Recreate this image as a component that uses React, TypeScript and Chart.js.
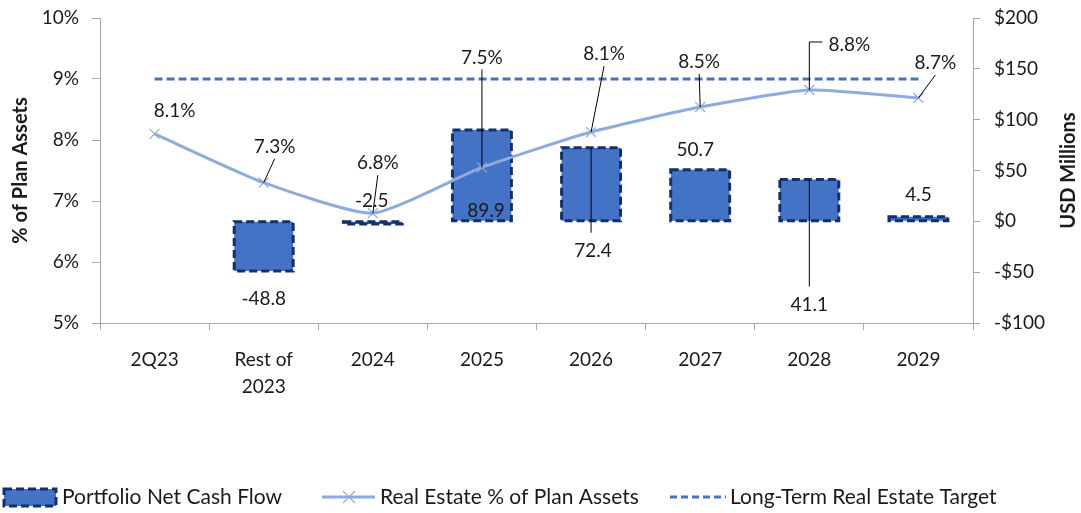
import React, { useEffect, useRef } from "react";
import { Chart, registerables } from "chart.js";

Chart.register(...registerables);

// ---------- data ----------
const categories: string[][] = [
  ["2Q23"],
  ["Rest of", "2023"],
  ["2024"],
  ["2025"],
  ["2026"],
  ["2027"],
  ["2028"],
  ["2029"],
];
const netCashFlow: (number | null)[] = [null, -48.8, -2.5, 89.9, 72.4, 50.7, 41.1, 4.5];
const realEstatePct: number[] = [8.1, 7.3, 6.8, 7.55, 8.13, 8.54, 8.82, 8.69];
const targetPct: number[] = [9, 9, 9, 9, 9, 9, 9, 9];
const pctLabels: string[] = ["8.1%", "7.3%", "6.8%", "7.5%", "8.1%", "8.5%", "8.8%", "8.7%"];
const cashLabels: string[] = ["", "-48.8", "-2.5", "89.9", "72.4", "50.7", "41.1", "4.5"];
const leftTickLabels: string[] = ["5%", "6%", "7%", "8%", "9%", "10%"];
const rightTickLabels: string[] = ["-$100", "-$50", "$0", "$50", "$100", "$150", "$200"];
const legendLabels: string[] = [
  "Portfolio Net Cash Flow",
  "Real Estate % of Plan Assets",
  "Long-Term Real Estate Target",
];

// ---------- layout / style (label placement relative to marks) ----------
// pct label: [dx, dy] of label centre from point; leader: "none" | "line" | "elbow"
const pctLabelOffsets: [number, number, string][] = [
  [20, -23, "none"],
  [11, -36, "line"],
  [5, -50, "line"],
  [0, -110, "line"],
  [13, -78, "line"],
  [-1, -45, "line"],
  [40, -45, "elbow"],
  [17, -35, "line"],
];
// cash label: [dx, dy] of label centre from the bar's value end; leader to bar end?
const cashLabelOffsets: [number, number, boolean][] = [
  [0, 0, false],
  [0, 28, false],
  [-1, -23, false],
  [4, 81, false],
  [2, 103, true],
  [-5, -20, false],
  [0, 125, true],
  [0, -22, false],
];

const FONT = "Lato, 'Open Sans', sans-serif";
const TEXT = "#1a1a1a";
const AXIS = "#a6a6a6";
const BAR_FILL = "#4472c4";
const BAR_BORDER = "#13306a";
const LINE_COLOR = "#8faadc";
const TARGET_COLOR = "#4472c4";

const barBorderPlugin = {
  id: "barBorder",
  afterDatasetDraw(chart: any, args: any) {
    if (args.index !== 0) return;
    const ctx = chart.ctx;
    const meta = chart.getDatasetMeta(0);
    ctx.save();
    ctx.strokeStyle = BAR_BORDER;
    ctx.lineWidth = 3;
    ctx.setLineDash([8, 4]);
    meta.data.forEach((el: any, i: number) => {
      if (netCashFlow[i] === null) return;
      const { x, y, base, width } = el.getProps(["x", "y", "base", "width"], true);
      const top = Math.min(y, base);
      const h = Math.abs(base - y);
      ctx.strokeRect(x - width / 2, top, width, h);
    });
    ctx.restore();
  },
};

const labelsPlugin = {
  id: "customLabels",
  afterDatasetsDraw(chart: any) {
    const ctx = chart.ctx;
    ctx.save();
    ctx.font = `19px ${FONT}`;
    ctx.fillStyle = TEXT;
    ctx.textAlign = "center";
    ctx.textBaseline = "middle";
    ctx.strokeStyle = "#000";
    ctx.lineWidth = 1;
    ctx.setLineDash([]);

    // percentage labels
    const lineMeta = chart.getDatasetMeta(1);
    lineMeta.data.forEach((pt: any, i: number) => {
      const [dx, dy, leader] = pctLabelOffsets[i];
      const lx = pt.x + dx;
      const ly = pt.y + dy;
      ctx.fillText(pctLabels[i], lx, ly);
      if (leader === "line") {
        ctx.beginPath();
        ctx.moveTo(lx, ly + 12);
        ctx.lineTo(pt.x, pt.y);
        ctx.stroke();
      } else if (leader === "elbow") {
        const w = ctx.measureText(pctLabels[i]).width;
        ctx.beginPath();
        ctx.moveTo(lx - w / 2 - 6, ly - 3);
        ctx.lineTo(pt.x, ly - 3);
        ctx.lineTo(pt.x, pt.y);
        ctx.stroke();
      }
    });

    // cash flow labels
    const barMeta = chart.getDatasetMeta(0);
    barMeta.data.forEach((el: any, i: number) => {
      if (netCashFlow[i] === null) return;
      const [dx, dy, leader] = cashLabelOffsets[i];
      const lx = el.x + dx;
      const ly = el.y + dy;
      ctx.fillText(cashLabels[i], lx, ly);
      if (leader) {
        ctx.beginPath();
        ctx.moveTo(el.x, ly - 18);
        ctx.lineTo(el.x, el.y);
        ctx.stroke();
      }
    });
    ctx.restore();
  },
  afterDraw(chart: any) {
    const ctx = chart.ctx;
    const area = chart.chartArea;
    const midY = (area.top + area.bottom) / 2;
    ctx.save();
    ctx.fillStyle = TEXT;
    ctx.font = `bold 20px ${FONT}`;
    ctx.textAlign = "center";
    ctx.textBaseline = "middle";
    // left axis title
    ctx.save();
    ctx.translate(21, midY);
    ctx.rotate(-Math.PI / 2);
    ctx.fillText("% of Plan Assets", 0, 0);
    ctx.restore();
    // right axis title
    ctx.save();
    ctx.translate(1069, midY);
    ctx.rotate(-Math.PI / 2);
    ctx.fillText("USD Millions", 0, 0);
    ctx.restore();

    // legend
    const ly = 497;
    ctx.font = `21px ${FONT}`;
    ctx.textAlign = "left";
    // bar swatch
    ctx.fillStyle = BAR_FILL;
    ctx.fillRect(4, ly - 8, 52, 17);
    ctx.strokeStyle = BAR_BORDER;
    ctx.lineWidth = 3;
    ctx.setLineDash([8, 4]);
    ctx.strokeRect(4, ly - 8, 52, 17);
    ctx.fillStyle = TEXT;
    ctx.fillText(legendLabels[0], 62, ly);
    // line swatch
    ctx.setLineDash([]);
    ctx.strokeStyle = LINE_COLOR;
    ctx.lineWidth = 3;
    ctx.beginPath();
    ctx.moveTo(322, ly);
    ctx.lineTo(375, ly);
    ctx.stroke();
    ctx.lineWidth = 1.2;
    ctx.beginPath();
    ctx.moveTo(343, ly - 6);
    ctx.lineTo(355, ly + 6);
    ctx.moveTo(355, ly - 6);
    ctx.lineTo(343, ly + 6);
    ctx.stroke();
    ctx.fillText(legendLabels[1], 380, ly);
    // dashed swatch
    ctx.strokeStyle = TARGET_COLOR;
    ctx.lineWidth = 3;
    ctx.setLineDash([7, 4]);
    ctx.beginPath();
    ctx.moveTo(670, ly);
    ctx.lineTo(726, ly);
    ctx.stroke();
    ctx.fillText(legendLabels[2], 730, ly);
    ctx.restore();
  },
};

const fixVertical = (w: number) => (scale: any) => {
  scale.width = w;
  scale.paddingTop = 0;
  scale.paddingBottom = 0;
};

export default function App() {
  const ref = useRef<HTMLCanvasElement>(null);
  useEffect(() => {
    document.body.style.margin = "0";
    Chart.defaults.font.family = FONT;
    const chart = new Chart(ref.current as HTMLCanvasElement, {
      type: "bar",
      data: {
        labels: categories,
        datasets: [
          {
            type: "bar",
            label: legendLabels[0],
            data: netCashFlow,
            yAxisID: "y1",
            backgroundColor: BAR_FILL,
            borderWidth: 0,
            barPercentage: 0.54,
            categoryPercentage: 1,
            order: 3,
          },
          {
            type: "line",
            label: legendLabels[1],
            data: realEstatePct,
            yAxisID: "y",
            borderColor: LINE_COLOR,
            backgroundColor: LINE_COLOR,
            borderWidth: 3,
            tension: 0.18,
            pointStyle: "crossRot",
            pointRadius: 7,
            pointBorderWidth: 1.2,
            pointBorderColor: LINE_COLOR,
            order: 1,
          },
          {
            type: "line",
            label: legendLabels[2],
            data: targetPct,
            yAxisID: "y",
            borderColor: TARGET_COLOR,
            borderWidth: 3,
            borderDash: [8, 4],
            pointRadius: 0,
            order: 2,
          },
        ],
      },
      options: {
        responsive: false,
        animation: false,
        devicePixelRatio: 1,
        layout: { autoPadding: false, padding: { top: 18, left: 0, right: 0, bottom: 0 } },
        plugins: { legend: { display: false }, tooltip: { enabled: false } },
        scales: {
          x: {
            grid: {
              offset: true,
              drawOnChartArea: false,
              drawTicks: true,
              tickLength: 7,
              color: AXIS,
            },
            border: { color: AXIS },
            ticks: {
              color: TEXT,
              padding: 16,
              maxRotation: 0,
              autoSkip: false,
              font: { size: 19, lineHeight: 1.45 },
            },
            afterFit(scale: any) {
              scale.height = 190;
              scale.paddingLeft = 0;
              scale.paddingRight = 0;
            },
          },
          y: {
            position: "left",
            min: 5,
            max: 10,
            grid: { drawOnChartArea: false, tickLength: 8, color: AXIS },
            border: { color: AXIS },
            ticks: {
              stepSize: 1,
              color: TEXT,
              padding: 13,
              font: { size: 19 },
              callback: (_v: any, i: number) => leftTickLabels[i],
            },
            afterFit: fixVertical(100),
          },
          y1: {
            position: "right",
            min: -100,
            max: 200,
            grid: { drawOnChartArea: false, tickLength: 7, color: AXIS },
            border: { color: AXIS },
            ticks: {
              stepSize: 50,
              color: TEXT,
              padding: 14,
              font: { size: 19 },
              callback: (_v: any, i: number) => rightTickLabels[i],
            },
            afterFit: fixVertical(108),
          },
        },
      },
      plugins: [barBorderPlugin, labelsPlugin],
    } as any);
    return () => chart.destroy();
  }, []);
  return (
    <div style={{ width: 1081, height: 513 }}>
      <canvas
        ref={ref}
        width={1081}
        height={513}
        style={{ width: 1081, height: 513, display: "block" }}
      />
    </div>
  );
}
